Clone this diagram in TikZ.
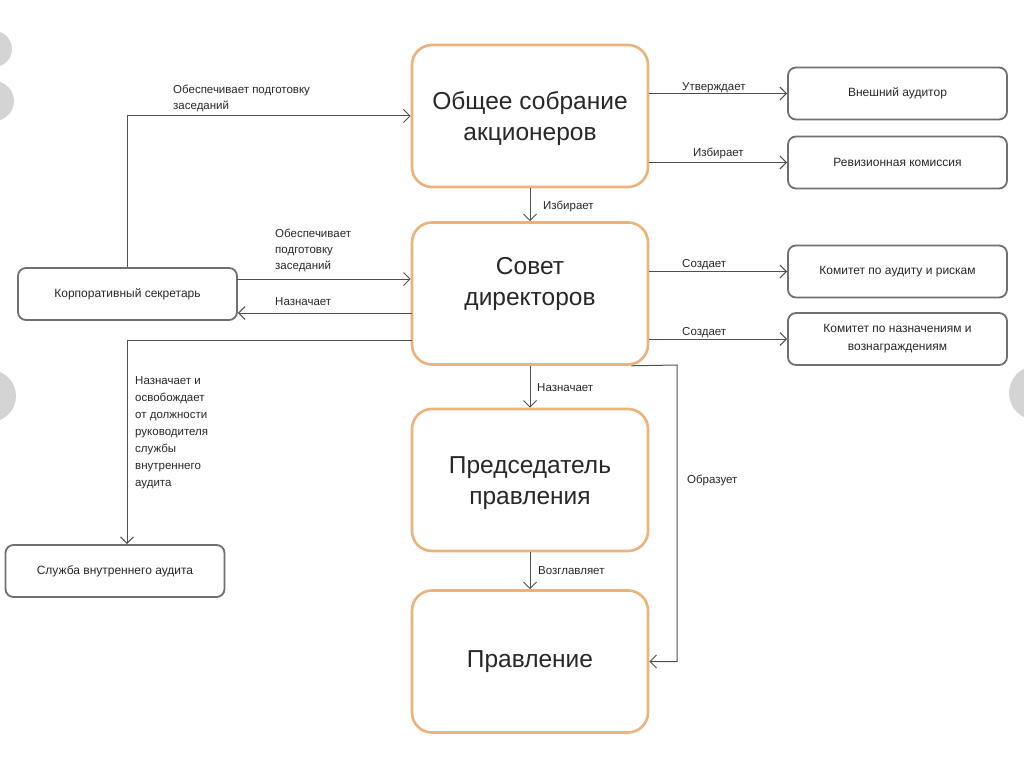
\documentclass[tikz,border=0pt]{standalone}
\usepackage{fontspec}
\setmainfont{Liberation Sans}
\usetikzlibrary{arrows.meta,calc}
\definecolor{orng}{RGB}{236,178,124}
\definecolor{gbord}{RGB}{112,112,112}
\definecolor{lnc}{RGB}{80,80,80}
\definecolor{artif}{RGB}{212,212,212}
\definecolor{txt}{RGB}{40,40,40}
\begin{document}
\begin{tikzpicture}[x=1pt,y=-1pt,
  bigbox/.style={draw=orng, line width=2.6pt, rounded corners=20pt, minimum width=236pt, minimum height=142pt, inner sep=0pt},
  bigtext/.style={font=\fontsize{24.5}{31}\selectfont, align=center, text=txt, inner sep=0pt},
  smallbox/.style={draw=gbord, line width=1.8pt, rounded corners=8pt, minimum width=219pt, minimum height=52pt, inner sep=0pt, font=\fontsize{12}{18}\selectfont, text=txt, align=center},
  lbl/.style={font=\fontsize{11.5}{16}\selectfont, align=left, anchor=north west, inner sep=0pt, text=txt},
  conn/.style={draw=lnc, line width=1pt, -{Straight Barb[length=6.5pt,width=13pt,line width=1pt]}}]
\useasboundingbox (0,0) rectangle (1024,767);
\fill[white] (0,0) rectangle (1024,767);
% viewer artefacts at the edges
\fill[artif] (-6,49) circle (18pt);
\fill[artif] (-6,101) circle (20pt);
\fill[artif] (-10,396) circle (26pt);
\fill[artif] (1036,393) circle (27pt);
% main boxes
\node[bigbox] (b1) at (530,116) {};
\node[bigbox] (b2) at (530,293.5) {};
\node[bigbox] (b3) at (530,480) {};
\node[bigbox] (b4) at (530,661.5) {};
\node[bigtext] (t1) at (530,119) {Общее собрание\\акционеров};
\node[bigtext] (t2) at (530,284) {Совет\\директоров};
\node[bigtext] (t3) at (530,483) {Председатель\\правления};
\node[bigtext] (t4) at (530,662) {Правление};
% right boxes
\node[smallbox] (gb1) at (897.5,93.5) {Внешний аудитор};
\node[smallbox] (gb2) at (897.5,162.5) {Ревизионная комиссия};
\node[smallbox] (gb3) at (897.5,271.5) {Комитет по аудиту и рискам};
\node[smallbox] (gb4) at (897.5,339) {Комитет по назначениям и\\вознаграждениям};
% left boxes
\node[smallbox] (sec) at (127.5,294) {Корпоративный секретарь};
\node[smallbox] (svc) at (115,571) {Служба внутреннего аудита};
% coordinates
\coordinate (pA) at (237,279);
\coordinate (pB) at (412,313);
\coordinate (pC) at (412,340);
\coordinate (pD) at (127,544);
\coordinate (k1) at (677,365);
% connectors
\draw[conn] (b1.east |- gb1.west) -- (gb1.west);
\draw[conn] (b1.east |- gb2.west) -- (gb2.west);
\draw[conn] (b1.south) -- (b2.north);
\draw[conn] (b2.east |- gb3.west) -- (gb3.west);
\draw[conn] (b2.east |- gb4.west) -- (gb4.west);
\draw[conn] (b2.south) -- (b3.north);
\draw[conn] (b3.south) -- (b4.north);
\draw[conn] ($(b2.south east)+(-18,0)$) -- (k1) |- (b4.east);
\draw[conn] (sec.north) |- (b1.west);
\draw[conn] (pA) -- (pA -| b2.west);
\draw[conn] (pB) -- (pB -| sec.east);
\draw[conn] (pC) -| (pD);
% labels
\node[lbl] (lA) at (173,85) {Обеспечивает подготовку\\заседаний};
\node[lbl] (lB) at (275,229) {Обеспечивает\\подготовку\\заседаний};
\node[lbl] (lC) at (275,297) {Назначает};
\node[lbl, font=\fontsize{11.5}{17}\selectfont] (lD) at (135,376) {Назначает и\\освобождает\\от должности\\руководителя\\службы\\внутреннего\\аудита};
\node[lbl] (lE) at (682,82) {Утверждает};
\node[lbl] (lF) at (693,148) {Избирает};
\node[lbl] (lG) at (543,201) {Избирает};
\node[lbl] (lH) at (682,259) {Создает};
\node[lbl] (lI) at (682,327) {Создает};
\node[lbl] (lJ) at (537,383) {Назначает};
\node[lbl] (lK) at (538,566) {Возглавляет};
\node[lbl] (lL) at (687,475) {Образует};
\end{tikzpicture}
\end{document}
